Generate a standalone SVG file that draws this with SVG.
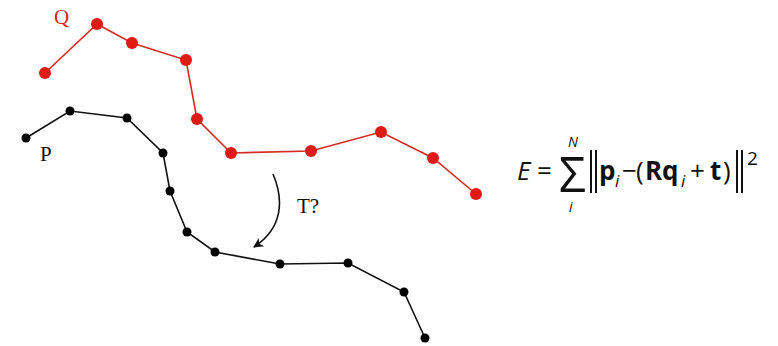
<svg xmlns="http://www.w3.org/2000/svg" width="778" height="346" viewBox="0 0 778 346">
  <defs>
    <style>
      .red-line { fill: none; stroke: #d42a22; stroke-width: 1.6; }
      .blk-line { fill: none; stroke: #111; stroke-width: 1.6; }
      .red-pt { fill: #e01a14; }
      .blk-pt { fill: #000; }
      .lbl { font-family: "Liberation Serif", "Times New Roman", serif; font-size: 21px; }
      .m { font-family: "Open Sans", "Liberation Sans", sans-serif; font-size: 26px; fill: #111; }
      .it { font-style: italic; }
      .bd { font-weight: bold; }
      .bar { stroke: #111; stroke-width: 2; }
    </style>
    <marker id="ah" viewBox="0 0 10 10" refX="9" refY="5" markerWidth="10" markerHeight="10" markerUnits="userSpaceOnUse" orient="auto">
      <path d="M0,0 L10,5 L0,10 L3,5 Z" fill="#111"/>
    </marker>
  </defs>
  <rect width="778" height="346" fill="#fff"/>

  <g id="connectors">
    <polyline class="red-line" points="45,73 97,24 132,43 186,60 197,119 231,153 311,151 381,132 433,158 476,194"/>
    <polyline class="blk-line" points="26,138 70,111 127,118 163,153 170,191 187,232 215,252 280,264 348,263 404,292 425,338"/>
    <path class="blk-line" d="M273,174 C284,200 283,228 254,247" marker-end="url(#ah)"/>
  </g>

  <g id="Q">
    <g class="red-pt">
      <circle cx="45" cy="73" r="6"/>
      <circle cx="97" cy="24" r="6"/>
      <circle cx="132" cy="43" r="6"/>
      <circle cx="186" cy="60" r="6"/>
      <circle cx="197" cy="119" r="6"/>
      <circle cx="231" cy="153" r="6"/>
      <circle cx="311" cy="151" r="6"/>
      <circle cx="381" cy="132" r="6"/>
      <circle cx="433" cy="158" r="6"/>
      <circle cx="476" cy="194" r="6"/>
    </g>
    <text class="lbl" x="54" y="24" fill="#d42a22">Q</text>
  </g>

  <g id="P">
    <g class="blk-pt">
      <circle cx="26" cy="138" r="4.5"/>
      <circle cx="70" cy="111" r="4.5"/>
      <circle cx="127" cy="118" r="4.5"/>
      <circle cx="163" cy="153" r="4.5"/>
      <circle cx="170" cy="191" r="4.5"/>
      <circle cx="187" cy="232" r="4.5"/>
      <circle cx="215" cy="252" r="4.5"/>
      <circle cx="280" cy="264" r="4.5"/>
      <circle cx="348" cy="263" r="4.5"/>
      <circle cx="404" cy="292" r="4.5"/>
      <circle cx="425" cy="338" r="4.5"/>
    </g>
    <text class="lbl" x="40" y="161" fill="#111">P</text>
  </g>

  <g id="T">
    <text class="lbl" x="297" y="213" fill="#111">T?</text>
  </g>

  <g id="formula">
    <text class="m it" x="517" y="180">E</text>
    <text class="m" x="537" y="180">=</text>
    <text class="m" transform="translate(559,192) scale(0.95,1)" style="font-size:50px">Σ</text>
    <text class="m it" x="568" y="147" style="font-size:14px">N</text>
    <text class="m it" x="569" y="212" style="font-size:14px">i</text>
    <line class="bar" x1="591" y1="150" x2="591" y2="193"/>
    <line class="bar" x1="596" y1="150" x2="596" y2="193"/>
    <text class="m bd" x="599" y="180">p</text>
    <text class="m it" x="615" y="187" style="font-size:17px">i</text>
    <text class="m" x="622" y="180">−</text>
    <text class="m" x="636" y="180">(</text>
    <text class="m bd" x="645" y="180">R</text>
    <text class="m bd" x="662" y="180">q</text>
    <text class="m it" x="681" y="187" style="font-size:17px">i</text>
    <text class="m" x="690" y="180">+</text>
    <text class="m bd" x="710" y="180">t</text>
    <text class="m" x="723" y="180">)</text>
    <line class="bar" x1="737" y1="150" x2="737" y2="193"/>
    <line class="bar" x1="742" y1="150" x2="742" y2="193"/>
    <text class="m" x="747" y="165" style="font-size:19px">2</text>
  </g>
</svg>
